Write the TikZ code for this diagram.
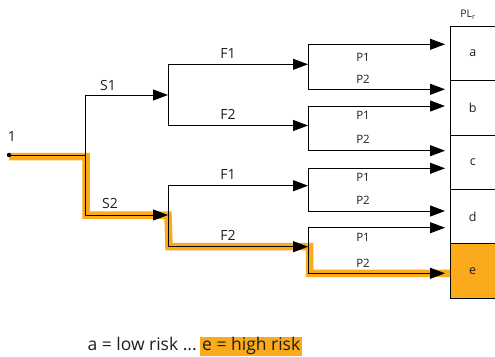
\documentclass[tikz,border=0pt]{standalone}
\usepackage{fontspec}
\setmainfont{Open Sans}
\usetikzlibrary{arrows.meta}
\definecolor{hl}{RGB}{250,170,27}
\definecolor{txt}{RGB}{30,30,30}
\begin{document}
\begin{tikzpicture}[x=1pt,y=-1pt,
  ln/.style={line width=1pt, black},
  arr/.style={ln, -{Triangle[length=15pt,width=11pt]}},
  glow/.style={line width=7.5pt, hl, line join=miter},
  lbl/.style={font=\fontsize{14}{16}\selectfont, text=txt, inner sep=0pt},
  plbl/.style={font=\fontsize{11.5}{13}\selectfont, text=txt, inner sep=0pt},
  cell/.style={draw, line width=1pt, minimum width=44.5pt, minimum height=54.3pt, anchor=north west, inner sep=0pt, font=\fontsize{12.5}{14}\selectfont, text=txt}
]
\useasboundingbox (0,0) rectangle (495,356);
% column
\node[cell] (a) at (450,26) {a};
\node[cell] (b) at (450,80.3) {b};
\node[cell] (c) at (450,134.6) {c};
\node[cell] (d) at (450,188.9) {d};
\node[cell, fill=hl] (e) at (450,243.2) {e};
\node[font=\fontsize{10.5}{12}\selectfont, text=txt, inner sep=0pt] (pl) at (468,15) {PL\textsubscript{r}};
% coordinates
\coordinate (o) at (9,155);
\coordinate (sv) at (85,155);
\coordinate (s1) at (85,95);
\coordinate (s2) at (85,215);
\coordinate (fa) at (168,95);
\coordinate (fb) at (168,215);
\coordinate (fa1) at (168,64.3);
\coordinate (fa2) at (168,125.5);
\coordinate (fb1) at (168,185.7);
\coordinate (fb2) at (168,246.7);
\coordinate (p1) at (308,64.3);
\coordinate (p2) at (308,125.5);
\coordinate (p3) at (308,185.7);
\coordinate (p4) at (308,246.7);
\coordinate (p1t) at (308,44.3);
\coordinate (p1b) at (308,89.3);
\coordinate (p2t) at (308,106);
\coordinate (p2b) at (308,150.7);
\coordinate (p3t) at (308,168.3);
\coordinate (p3b) at (308,211);
\coordinate (p4t) at (308,227.7);
\coordinate (p4b) at (308,273.3);
\coordinate (q1t) at (445,44.3);
\coordinate (q1b) at (445,89.3);
\coordinate (q2t) at (445,106);
\coordinate (q2b) at (445,150.7);
\coordinate (q3t) at (445,168.3);
\coordinate (q3b) at (445,211);
\coordinate (q4t) at (445,227.7);
\coordinate (q4b) at (445,273.3);
% highlight path
\draw[glow] ([yshift=-1.5pt]o) -- ([xshift=1pt,yshift=-1.5pt]sv) -- ([xshift=1pt]s2) -- (fb) -- ([xshift=1pt]fb2) -- ([xshift=1.5pt]p4) -- ([xshift=1.5pt]p4b) -- (e.west |- p4b);
% tree
\fill (o) circle (2.2pt);
\node[lbl] (n1) at (12,137) {1};
\draw[ln] (o) -- (sv);
\draw[ln] (s1) -- (s2);
\draw[arr] (s1) -- (fa);
\draw[arr] (s2) -- (fb);
\draw[ln] (fa1) -- (fa2);
\draw[ln] (fb1) -- (fb2);
\draw[arr] (fa1) -- (p1);
\draw[arr] (fa2) -- (p2);
\draw[arr] (fb1) -- (p3);
\draw[arr] (fb2) -- (p4);
\draw[arr] (p1t) -- (q1t); \draw[ln] (p1t) -- (p1b); \draw[arr] (p1b) -- (q1b);
\draw[arr] (p2t) -- (q2t); \draw[ln] (p2t) -- (p2b); \draw[arr] (p2b) -- (q2b);
\draw[arr] (p3t) -- (q3t); \draw[ln] (p3t) -- (p3b); \draw[arr] (p3b) -- (q3b);
\draw[arr] (p4t) -- (q4t); \draw[ln] (p4t) -- (p4b); \draw[arr] (p4b) -- (q4b);
% labels
\node[lbl] (ls1) at (108,85) {S1};
\node[lbl] (ls2) at (110,203) {S2};
\node[lbl] (lf1a) at (228,54) {F1};
\node[lbl] (lf2a) at (228,114) {F2};
\node[lbl] (lf1b) at (228,175) {F1};
\node[lbl] (lf2b) at (228,235) {F2};
\node[plbl] (lp1a) at (363,57) {P1};
\node[plbl] (lp2a) at (363,79) {P2};
\node[plbl] (lp1b) at (363,115) {P1};
\node[plbl] (lp2b) at (363,139) {P2};
\node[plbl] (lp1c) at (363,177) {P1};
\node[plbl] (lp2c) at (363,200) {P2};
\node[plbl] (lp1d) at (363,237) {P1};
\node[plbl] (lp2d) at (363,263) {P2};
% legend
\node[fill=hl, inner xsep=2pt, inner ysep=0pt, minimum height=19pt, anchor=west, font=\fontsize{17.5}{19}\selectfont, text=txt] (leg2) at (200,346) {e = high risk};
\node[anchor=base east, inner sep=0pt, font=\fontsize{17.5}{19}\selectfont, text=txt] (leg1) at ([xshift=-3pt]leg2.base west) {a = low risk ...};
\end{tikzpicture}
\end{document}
